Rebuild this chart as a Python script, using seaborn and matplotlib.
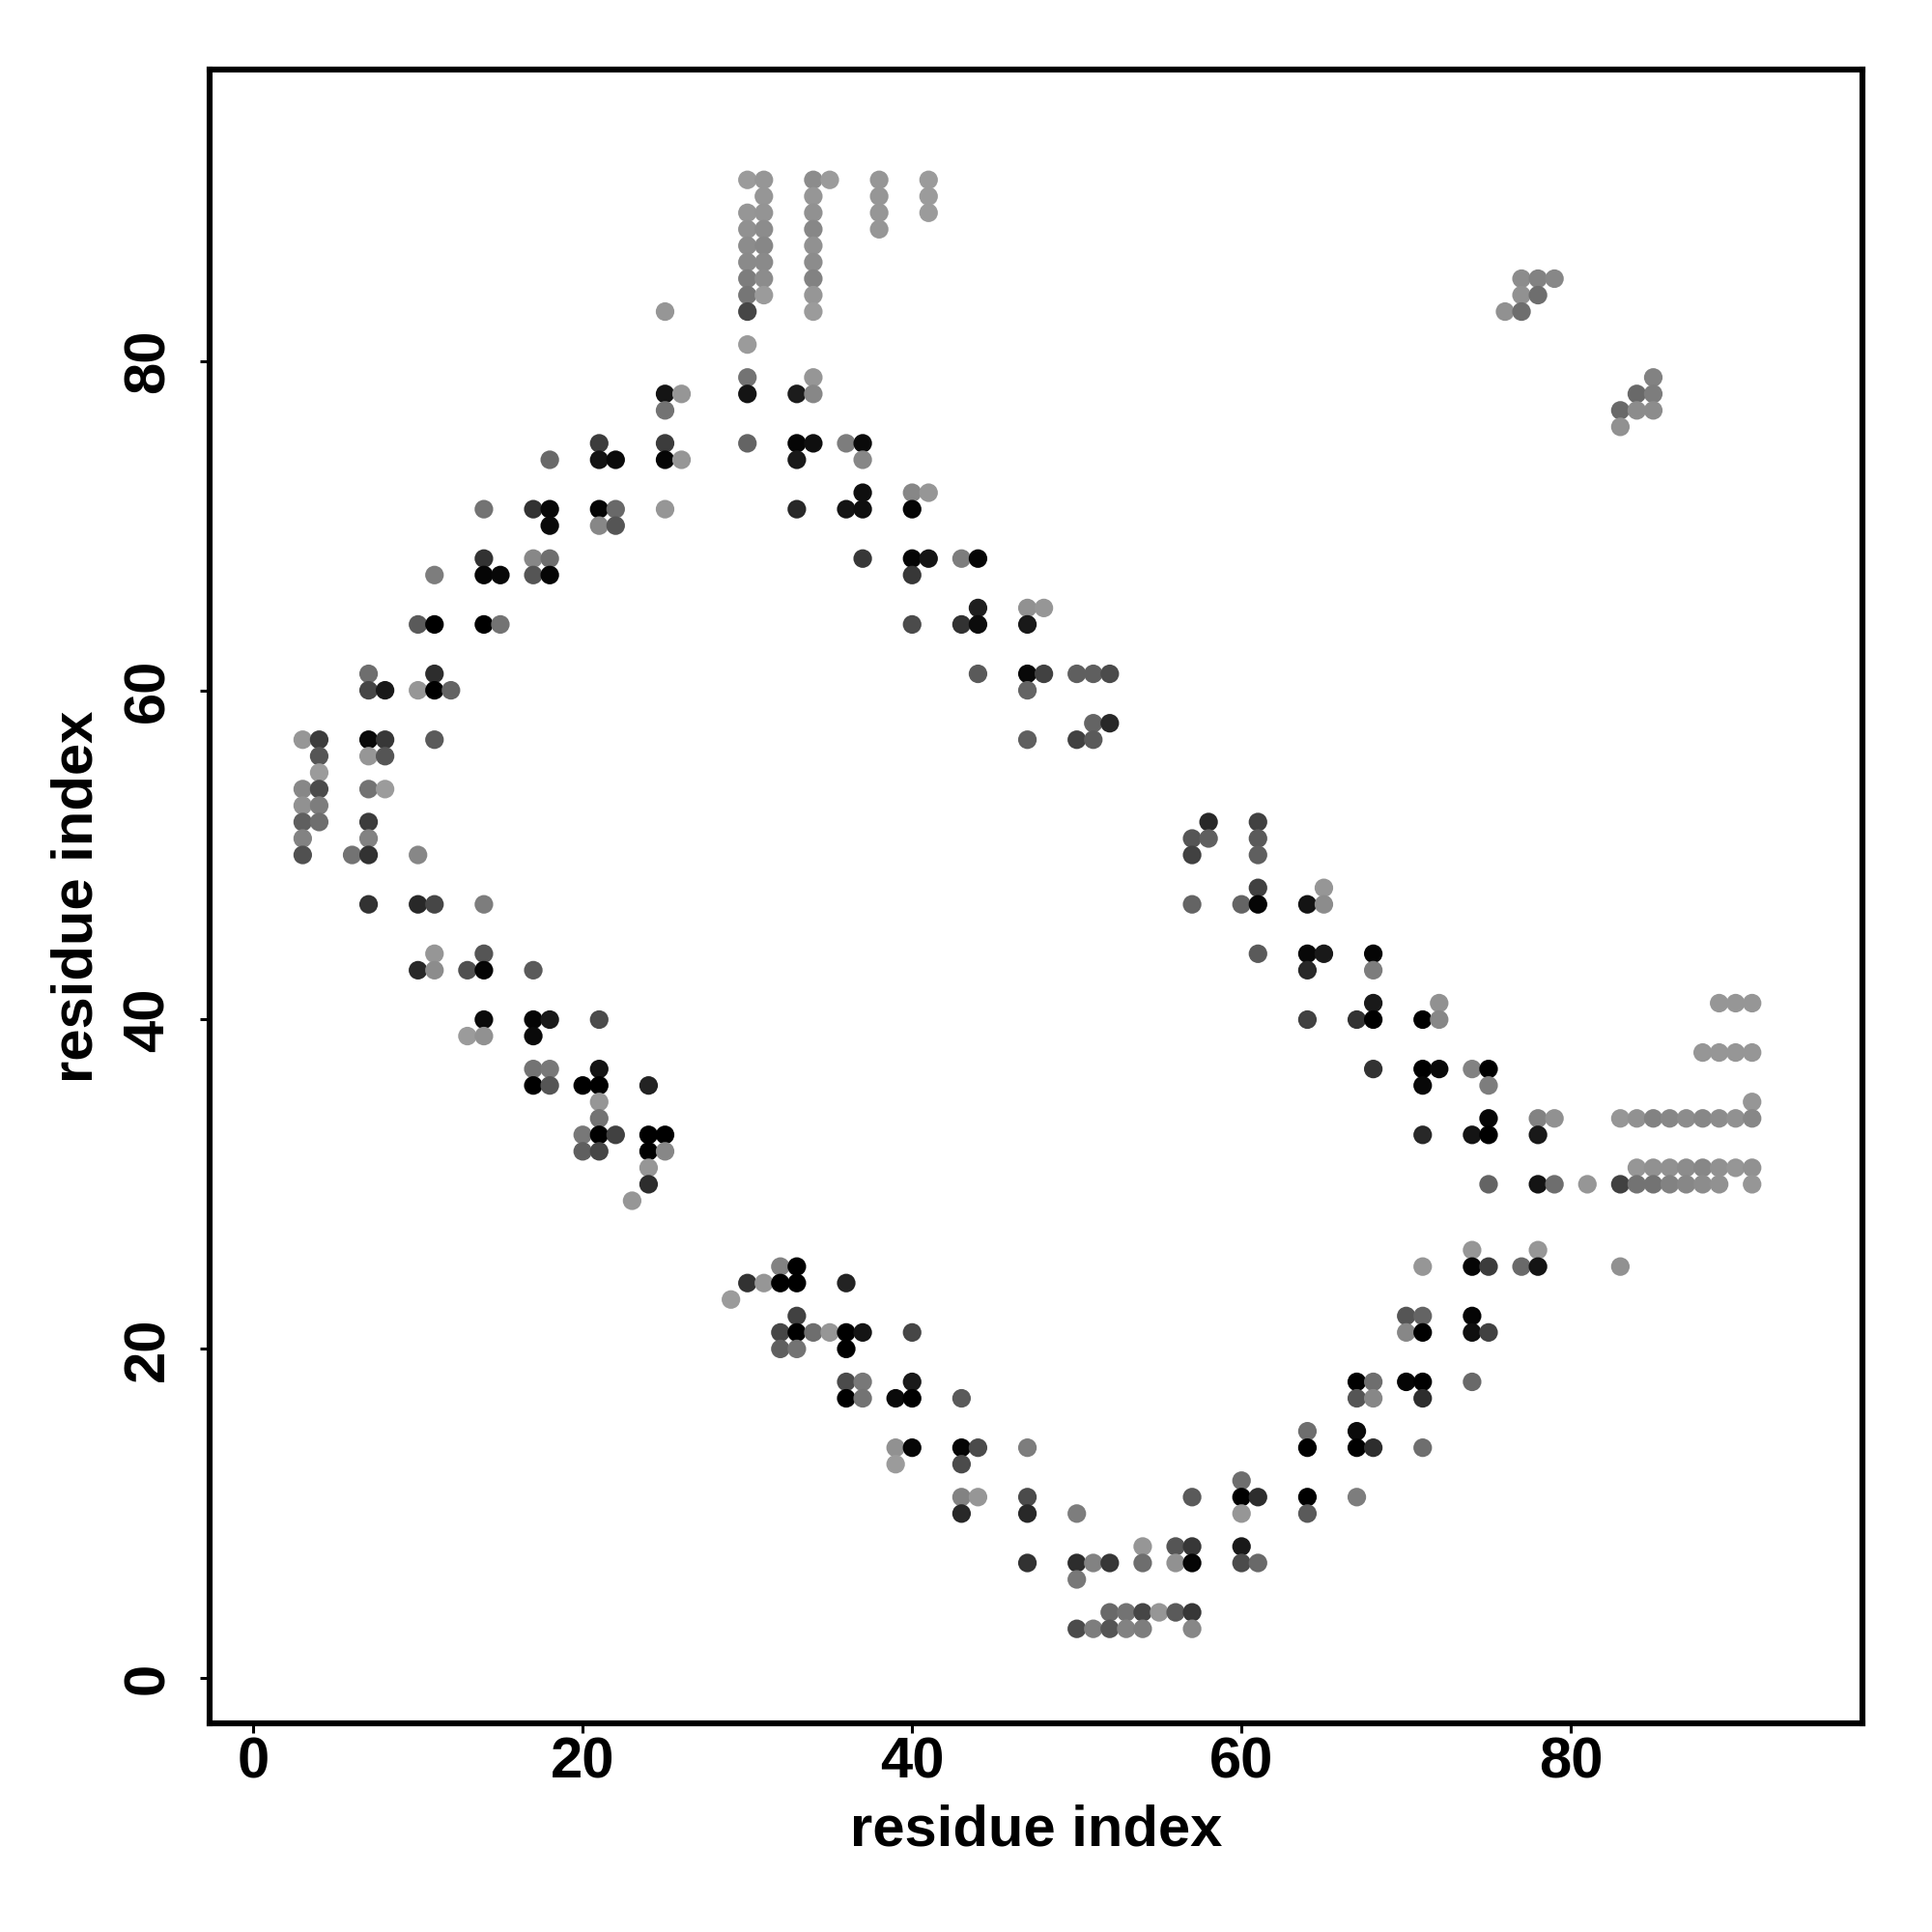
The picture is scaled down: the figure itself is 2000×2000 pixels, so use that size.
import matplotlib
matplotlib.use("Agg")
import matplotlib.pyplot as plt
import pandas as pd
import seaborn as sns

row_y = [91, 90, 89, 88, 87, 86, 85, 84, 83, 81, 79, 78, 77, 76, 75, 74, 72, 71, 70, 68, 67, 65, 64, 61, 60, 58, 57, 56, 55, 54, 53, 52, 51, 50, 48, 47, 44, 43, 41, 40, 39, 38, 37, 36, 35, 34, 33, 32, 31, 30, 29, 26, 25, 24, 23, 22, 21, 20, 18, 17, 15, 14, 13, 12, 11, 10, 8, 7, 6, 4, 3]
row_x = [
 [30,31,34,35,38,41],[31,34,38,41],[30,31,34,38,41],[30,31,34,38],[30,31,34],[30,31,34],
 [30,31,34,77,78,79],[30,31,34,77,78],[25,30,34,76,77],[30],[30,34,85],[25,26,30,33,34,84,85],
 [25,83,84,85],[83],[21,25,30,33,34,36,37],[18,21,22,25,26,33,37],[37,40,41],
 [14,17,18,21,22,25,33,36,37,40],[18,21,22],[14,17,18,37,40,41,43,44],[11,14,15,17,18,40],
 [44,47,48],[10,11,14,15,40,43,44,47],[7,11,44,47,48,50,51,52],[7,8,10,11,12,47],[51,52],
 [3,4,7,8,11,47,50,51],[4,7,8],[4],[3,4,7,8],[3,4],[3,4,7,58,61],[3,7,57,58,61],[3,6,7,10,57,61],
 [61,65],[7,10,11,14,57,60,61,64,65],[11,14,61,64,65,68],[10,11,13,14,17,64,68],[68,72,89,90,91],
 [14,17,18,21,64,67,68,71,72],[13,14,17],[88,89,90,91],[17,18,21,68,71,72,74,75],[17,18,20,21,24,71,75],
 [21,91],[21,75,78,79,83,84,85,86,87,88,89,90,91],[20,21,22,24,25,71,74,75,78],[20,21,24,25],
 [24,84,85,86,87,88,89,90,91],[24,75,78,79,81,83,84,85,86,87,88,89,91],[23],[74,78],
 [32,33,71,74,75,77,78,83],[30,31,32,33,36],[29],[33,70,71,74],[32,33,34,35,36,37,40,70,71,74,75],
 [32,33,36],[36,37,40,67,68,70,71,74],[36,37,39,40,43,67,68,71],[64,67],[39,40,43,44,47,64,67,68,71],
 [39,43],[60],[43,44,47,57,60,61,64,67],[43,47,50,60,64],[54,56,57,60],[47,50,51,52,54,56,57,60,61],
 [50],[52,53,54,55,56,57],[50,51,52,53,54,57],
]
row_shade = [
 [155,150,140,155,150,155],[150,150,150,155],[150,148,145,150,155],[145,140,135,150],[140,135,145],[138,138,140],
 [125,140,130,140,130,135],[118,155,150,145,110],[150,70,155,145,110],[155],[115,150,130],[20,150,20,28,135,105,125],
 [115,105,140,140],[145],[60,60,100,5,15,125,10],[105,20,10,5,150,25,135],[15,135,150],
 [115,50,8,5,105,150,40,20,15,5],[10,135,85],[50,135,110,55,5,20,125,5],[125,5,8,85,5,55],
 [30,145,150],[90,0,0,115,75,50,12,25],[110,45,90,8,65,95,95,75],[70,25,150,0,100,100],[100,40],
 [150,60,10,55,90,95,65,90],[85,150,85],[155],[135,75,115,155],[145,125],[95,110,60,40,65],[130,130,85,95,90],[80,115,50,135,65,95],
 [65,150],[50,40,70,125,100,100,5,20,140],[150,85,90,8,25,5],[40,140,80,5,90,40,125],[25,145,150,150,150],
 [10,5,25,75,65,50,0,0,135],[155,145,10],[150,150,150,150],[115,120,20,50,0,10,130,0],[0,85,0,0,35,8,125],
 [150,150],[115,5,130,145,150,145,130,135,140,135,140,145,135],[120,0,65,0,0,40,20,0,25],[95,70,0,135],
 [150,150,145,145,140,135,145,150,145],[45,100,20,110,150,65,115,115,130,135,140,145,150],[150],[150,150],
 [130,0,150,5,60,105,20,145],[50,150,0,0,35],[155],[65,85,100,5],[70,0,110,150,0,20,70,135,0,15,65],
 [95,115,0],[75,120,25,0,110,5,0,105],[0,115,10,0,90,85,135,45],[110,10],[145,5,5,75,125,0,0,45,110],
 [155,75],[110],[130,150,75,90,0,45,0,125],[40,40,125,150,90],[150,85,55,25],[50,45,130,55,110,145,5,75,105],
 [120],[105,115,70,150,90,55],[75,125,85,130,125,135],
]
tick_values = [0, 20, 40, 60, 80]
axis_title = "residue index"

xs, ys, shades = [], [], []
for y, rx, rs in zip(row_y, row_x, row_shade):
    assert len(rx) == len(rs), y
    xs += rx
    ys += [y] * len(rx)
    shades += rs
df = pd.DataFrame({"x": xs, "y": ys, "shade": shades})
palette = {s: (s / 255, s / 255, s / 255) for s in set(shades)}

sns.set_style("white")
plt.rcParams["font.family"] = ["Liberation Sans", "DejaVu Sans"]
plt.rcParams["font.weight"] = "bold"

fig = plt.figure(figsize=(10, 10), dpi=200)
ax = fig.add_axes([216.7 / 2000, 216 / 2000, 1711.3 / 2000, 1712 / 2000])
sns.scatterplot(data=df, x="x", y="y", hue="shade", palette=palette, legend=False,
                s=48, linewidth=0, ax=ax, clip_on=True)
ax.set_xlim(-2.67, 97.7)
ax.set_ylim(-2.74, 97.7)
ax.set_xticks(tick_values)
ax.set_yticks(tick_values)
ax.tick_params(axis="both", length=3.6, width=1.1, color="black", labelcolor="black",
               labelsize=21.5, pad=1.2, bottom=True, left=True)
ax.tick_params(axis="y", pad=9.2)
for lab in ax.get_yticklabels():
    lab.set_rotation(90)
    lab.set_va("center")
for sp in ax.spines.values():
    sp.set_visible(True)
    sp.set_color("black")
    sp.set_linewidth(2.2)
ax.set_xlabel(axis_title, fontsize=21.5, fontweight="bold", color="black", labelpad=5.3)
ax.set_ylabel(axis_title, fontsize=21.5, fontweight="bold", color="black", labelpad=6.6)
fig.savefig("out.png", dpi=200, facecolor="white")
